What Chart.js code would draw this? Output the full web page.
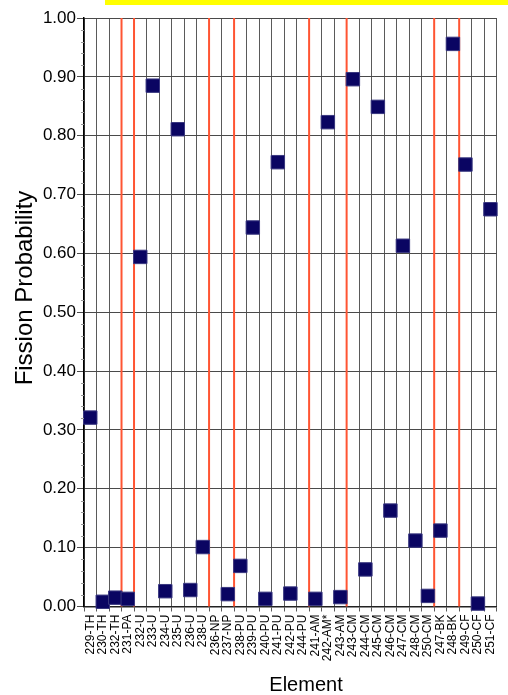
<!DOCTYPE html>
<html>
<head>
<meta charset="utf-8">
<script src="https://cdn.jsdelivr.net/npm/chart.js@4/dist/chart.umd.min.js"></script>
<style>
  html, body { margin: 0; padding: 0; background: #ffffff; }
  #wrap { position: relative; width: 508px; height: 695px; }
  #band { position: absolute; left: 105px; top: 0; width: 403px; height: 5px; background: #ffff00; }
  canvas { position: absolute; left: 0; top: 0; }
</style>
</head>
<body>
<div id="wrap">
  <canvas id="c" width="508" height="695"></canvas>
  <div id="band"></div>
</div>
<script>
const categories = ['229-TH','230-TH','232-TH','231-PA','232-U','233-U','234-U','235-U','236-U','238-U',
  '236-NP','237-NP','238-PU','239-PU','240-PU','241-PU','242-PU','244-PU','241-AM','242-AM*','243-AM',
  '243-CM','244-CM','245-CM','246-CM','247-CM','248-CM','250-CM','247-BK','248-BK','249-CF','250-CF','251-CF'];

const fissionProbability = [0.321, 0.008, 0.015, 0.013, 0.594, 0.885, 0.026, 0.811, 0.028, 0.101,
  null, 0.021, 0.069, 0.644, 0.013, 0.755, 0.022, null, 0.013, 0.823, 0.016,
  0.896, 0.063, 0.849, 0.163, 0.613, 0.112, 0.018, 0.129, 0.956, 0.751, 0.005, 0.675];

const yTickValues = [0, 0.1, 0.2, 0.3, 0.4, 0.5, 0.6, 0.7, 0.8, 0.9, 1.0];
const yMinorStep = 0.02;
const xTitle = 'Element';
const yTitle = 'Fission Probability';

const FONT = '"Liberation Sans", Arial, Helvetica, sans-serif';

// element boundaries: where the element symbol changes
function elementOf(label) { return label.split('-')[1].replace('*', ''); }

const decorPlugin = {
  id: 'decor',
  beforeDatasetsDraw(chart) {
    const { ctx, chartArea, scales } = chart;
    const x = scales.x;
    ctx.save();
    ctx.strokeStyle = '#ff5533';
    ctx.lineWidth = 2;
    for (let k = 1; k < categories.length; k++) {
      if (elementOf(categories[k]) !== elementOf(categories[k - 1])) {
        const px = (x.getPixelForValue(k - 1) + x.getPixelForValue(k)) / 2;
        ctx.beginPath();
        ctx.moveTo(px, chartArea.top);
        ctx.lineTo(px, chartArea.bottom);
        ctx.stroke();
      }
    }
    ctx.restore();
  },
  afterDraw(chart) {
    const { ctx, chartArea, scales } = chart;
    const y = scales.y;
    ctx.save();
    // minor ticks on the left axis
    ctx.strokeStyle = '#999999';
    ctx.lineWidth = 1;
    for (let v = 0; v <= 1.0001; v += yMinorStep) {
      const r = Math.round(v * 100);
      if (r % 10 === 0) continue;
      const py = Math.round(y.getPixelForValue(v)) + 0.5;
      ctx.beginPath();
      ctx.moveTo(chartArea.left - 3, py);
      ctx.lineTo(chartArea.left, py);
      ctx.stroke();
    }
    // axis titles
    ctx.fillStyle = '#000000';
    ctx.font = '24px ' + FONT;
    ctx.textAlign = 'center';
    ctx.textBaseline = 'middle';
    ctx.translate(25, 288);
    ctx.rotate(-Math.PI / 2);
    ctx.fillText(yTitle, 0, 0);
    ctx.restore();
    ctx.save();
    ctx.fillStyle = '#000000';
    ctx.font = '20px ' + FONT;
    ctx.textAlign = 'center';
    ctx.textBaseline = 'alphabetic';
    ctx.fillText(xTitle, 306, 691);
    ctx.restore();
  }
};

new Chart(document.getElementById('c'), {
  type: 'line',
  data: {
    labels: categories,
    datasets: [{
      data: fissionProbability,
      showLine: false,
      pointStyle: 'rect',
      pointRadius: 9.5,
      pointHoverRadius: 9.5,
      pointBackgroundColor: '#0a0562',
      pointBorderColor: '#3a3880',
      pointBorderWidth: 1,
      clip: false
    }]
  },
  options: {
    responsive: false,
    animation: false,
    events: [],
    layout: { padding: { top: 18, right: 0, left: 0, bottom: 0 } },
    plugins: { legend: { display: false }, tooltip: { enabled: false }, title: { display: false } },
    scales: {
      x: {
        type: 'category',
        offset: true,
        grid: { offset: true, color: '#5a5a5a', lineWidth: 1, tickLength: 5, tickColor: '#5a5a5a' },
        border: { color: '#222222', width: 1.5 },
        ticks: {
          autoSkip: false, maxRotation: 90, minRotation: 90, padding: 3,
          color: '#000000', font: { family: FONT, size: 12 }
        },
        afterFit(scale) { scale.height = 88.5; }
      },
      y: {
        min: 0, max: 1,
        afterBuildTicks(scale) { scale.ticks = yTickValues.map(v => ({ value: v })); },
        grid: { color: '#4a4a4a', lineWidth: 1, tickLength: 7, tickColor: '#4a4a4a' },
        border: { color: '#000000', width: 1.5 },
        ticks: {
          padding: 1, color: '#000000', font: { family: FONT, size: 17 },
          callback: v => Number(v).toFixed(2)
        },
        afterFit(scale) { scale.width = 84; }
      }
    }
  },
  plugins: [decorPlugin]
});
</script>
</body>
</html>
